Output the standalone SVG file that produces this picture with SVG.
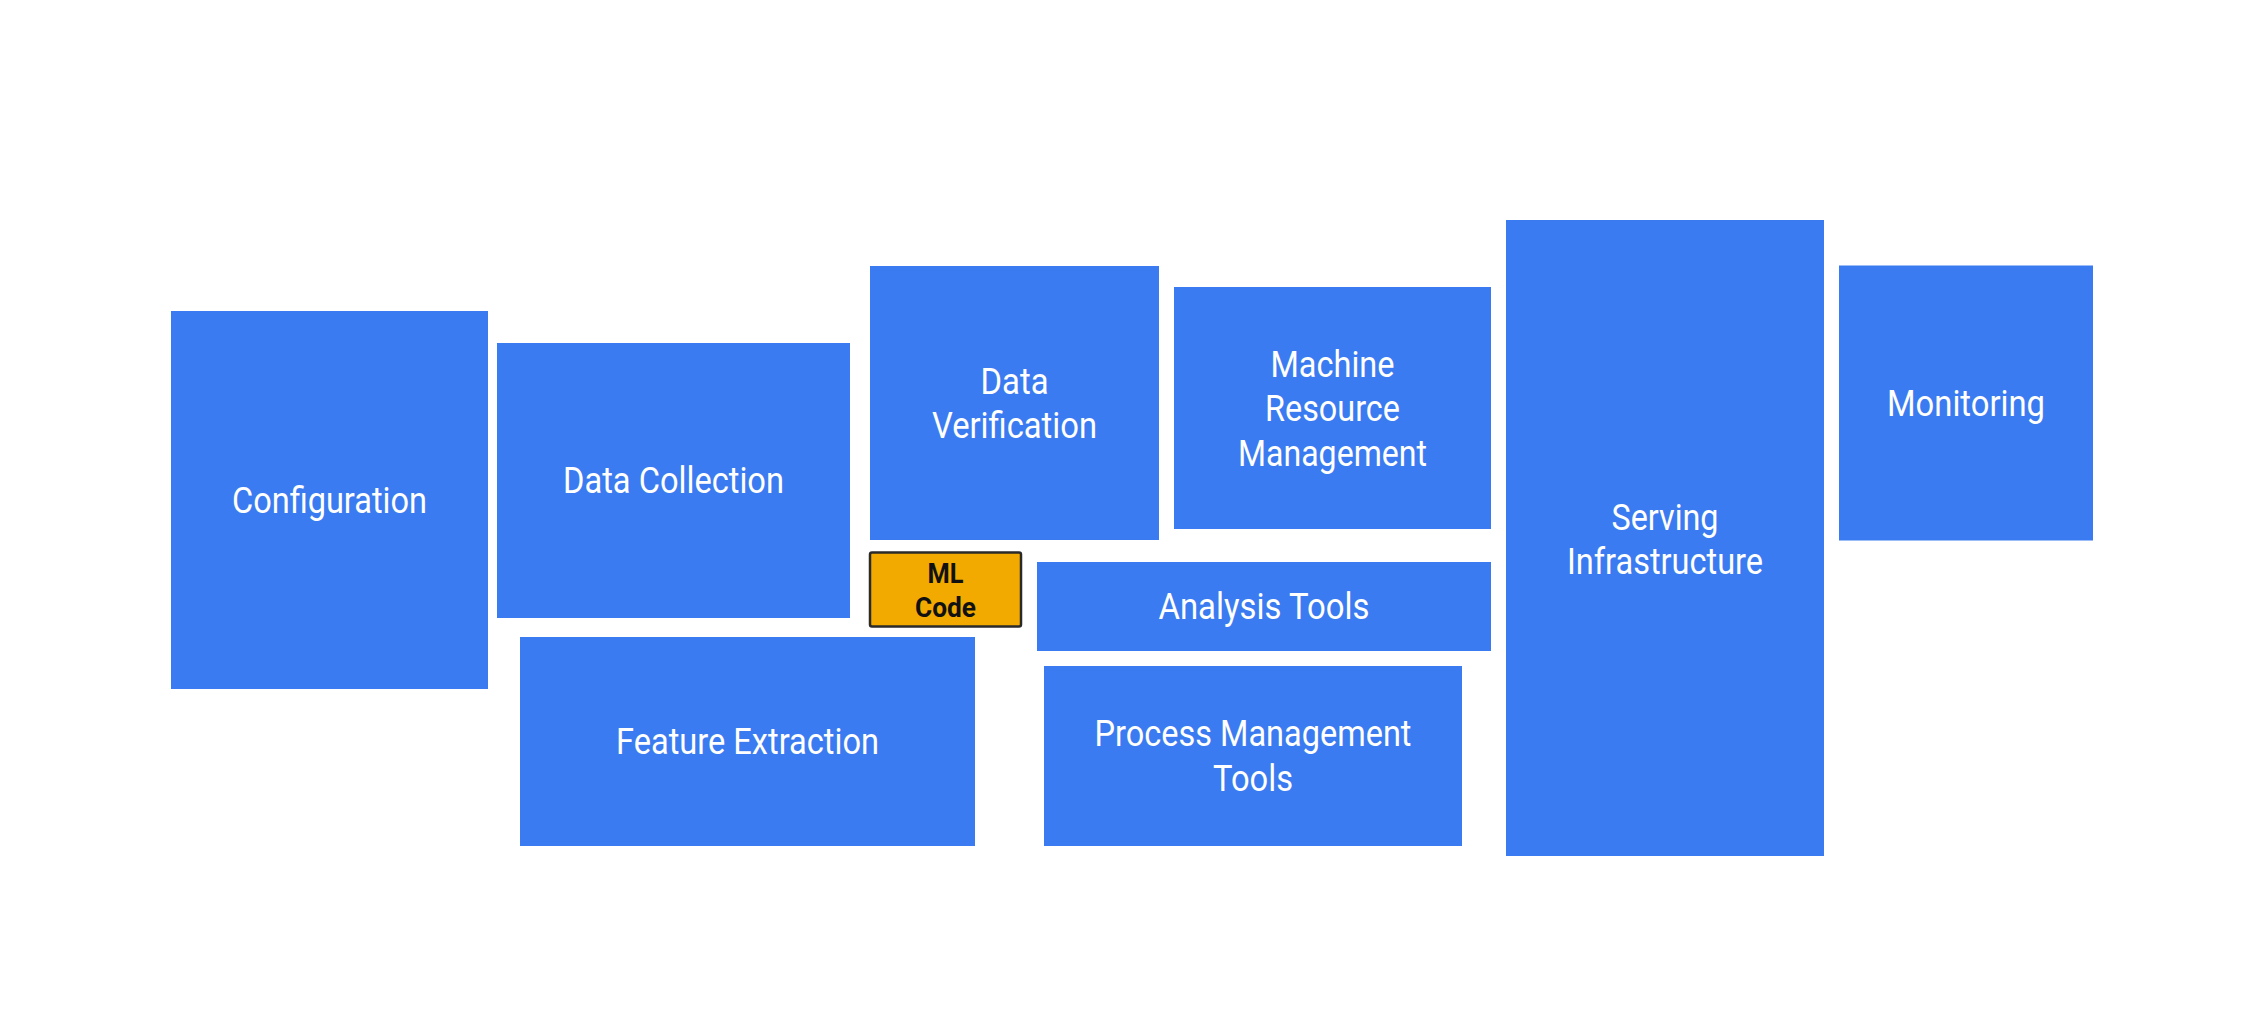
<svg xmlns="http://www.w3.org/2000/svg" width="2260" height="1018" viewBox="0 0 2260 1018">
<style>
.box{fill:#3B7BF1;}
.lbl{font-family:Roboto,"Liberation Sans",sans-serif;font-size:36px;fill:#FFFFFF;text-anchor:middle;}
.ml{fill:#F2AA00;stroke:#2A2A2A;stroke-width:2.5;}
.mlt{font-family:Roboto,"Liberation Sans",sans-serif;font-size:28px;font-weight:bold;fill:#111111;text-anchor:middle;}
</style>
<rect width="2260" height="1018" fill="#FFFFFF"/>
<g id="connectors"></g>
<g id="configuration">
<rect class="box" x="171" y="311" width="317" height="378"/>
<text class="lbl" x="329.5" y="513" textLength="195" lengthAdjust="spacingAndGlyphs">Configuration</text>
</g>
<g id="data-collection">
<rect class="box" x="497" y="343" width="353" height="275"/>
<text class="lbl" x="673.5" y="493" textLength="221" lengthAdjust="spacingAndGlyphs">Data Collection</text>
</g>
<g id="feature-extraction">
<rect class="box" x="520" y="637" width="455" height="209"/>
<text class="lbl" x="747.5" y="754" textLength="263" lengthAdjust="spacingAndGlyphs">Feature Extraction</text>
</g>
<g id="data-verification">
<rect class="box" x="870" y="266" width="289" height="274"/>
<text class="lbl" x="1014.5" y="394" textLength="68" lengthAdjust="spacingAndGlyphs">Data</text>
<text class="lbl" x="1014.5" y="438" textLength="165" lengthAdjust="spacingAndGlyphs">Verification</text>
</g>
<g id="ml-code">
<rect class="ml" x="870" y="552.5" width="151" height="74" rx="2"/>
<text class="mlt" x="945.5" y="582.5" textLength="36" lengthAdjust="spacingAndGlyphs">ML</text>
<text class="mlt" x="945.5" y="617" textLength="61" lengthAdjust="spacingAndGlyphs">Code</text>
</g>
<g id="machine-resource-management">
<rect class="box" x="1174" y="287" width="317" height="242"/>
<text class="lbl" x="1332.5" y="377" textLength="124" lengthAdjust="spacingAndGlyphs">Machine</text>
<text class="lbl" x="1332.5" y="421" textLength="135" lengthAdjust="spacingAndGlyphs">Resource</text>
<text class="lbl" x="1332.5" y="465.5" textLength="189" lengthAdjust="spacingAndGlyphs">Management</text>
</g>
<g id="analysis-tools">
<rect class="box" x="1037" y="562" width="454" height="89"/>
<text class="lbl" x="1264" y="618.5" textLength="211" lengthAdjust="spacingAndGlyphs">Analysis Tools</text>
</g>
<g id="process-management-tools">
<rect class="box" x="1044" y="666" width="418" height="180"/>
<text class="lbl" x="1253" y="746" textLength="317" lengthAdjust="spacingAndGlyphs">Process Management</text>
<text class="lbl" x="1253" y="790.5" textLength="80" lengthAdjust="spacingAndGlyphs">Tools</text>
</g>
<g id="serving-infrastructure">
<rect class="box" x="1506" y="220" width="318" height="636"/>
<text class="lbl" x="1665" y="530" textLength="107" lengthAdjust="spacingAndGlyphs">Serving</text>
<text class="lbl" x="1665" y="574" textLength="196" lengthAdjust="spacingAndGlyphs">Infrastructure</text>
</g>
<g id="monitoring">
<rect class="box" x="1839" y="265.5" width="254" height="275"/>
<text class="lbl" x="1966" y="416" textLength="158" lengthAdjust="spacingAndGlyphs">Monitoring</text>
</g>
</svg>
